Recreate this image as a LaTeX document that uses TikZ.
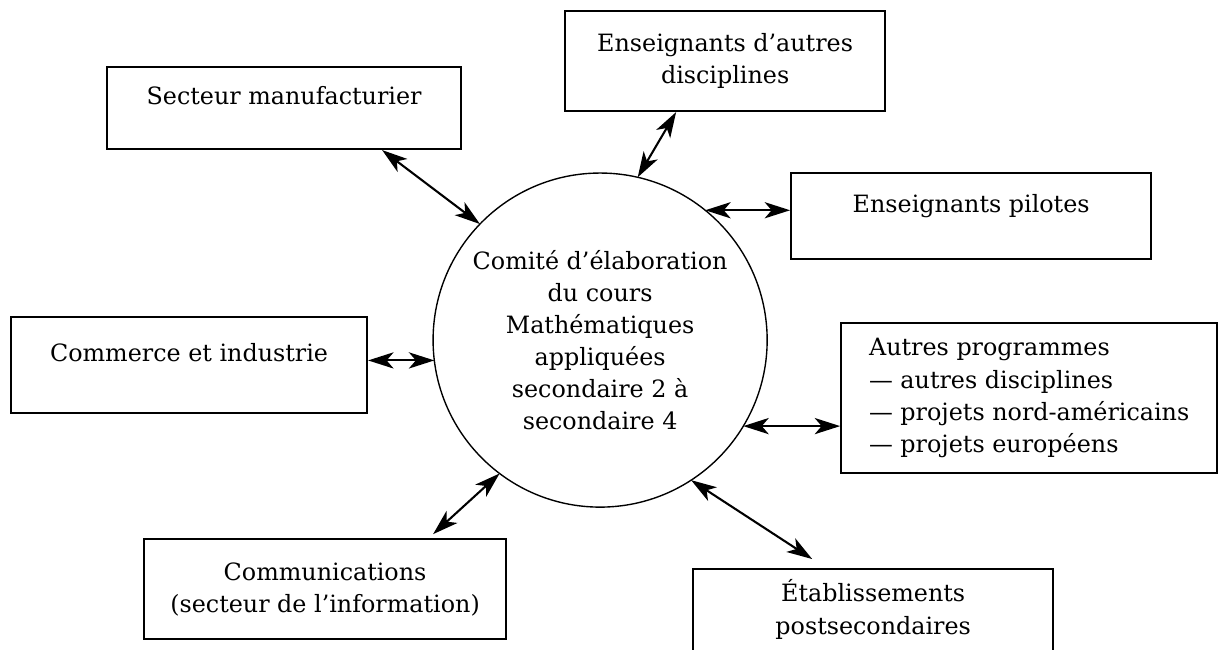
\documentclass[tikz,border=0pt]{standalone}
\usepackage{fontspec}
\setmainfont{DejaVu Serif}
\usepackage{tikz}
\usetikzlibrary{arrows.meta,positioning}

\begin{document}
\begin{tikzpicture}[
  font=\fontsize{10.3}{13.9}\selectfont,
  box/.style={draw, line width=0.9pt, align=center, inner sep=0pt},
  onebox/.style={box, text height=8pt, text depth=11pt},
  comite/.style={draw, circle, line width=0.6pt, minimum size=5.077cm, inner sep=0pt, outer sep=0pt, align=center},
  link/.style={{Stealth[length=11pt,width=7pt,inset=3pt]}-{Stealth[length=11pt,width=7pt,inset=3pt]}, line width=0.9pt}
]
\useasboundingbox (0,0) rectangle (18.51,-9.865);
\node[comite] (c) at (9.12,-5.168) {Comité d’élaboration\\du cours\\Mathématiques\\appliquées\\secondaire 2 à\\secondaire 4};
\node[box, minimum width=4.864cm, minimum height=1.52cm] (autdisc) at (11.02,-0.927) {Enseignants d’autres\\disciplines};
\node[onebox, minimum width=5.381cm, minimum height=1.246cm] (manuf) at (4.317,-1.642) {Secteur manufacturier};
\node[onebox, minimum width=5.472cm, minimum height=1.307cm] (pilotes) at (14.759,-3.283) {Enseignants pilotes};
\node[onebox, minimum width=5.411cm, minimum height=1.459cm] (commerce) at (2.873,-5.548) {Commerce et industrie};
\node[box, align=left, minimum width=5.715cm, minimum height=2.28cm] (progr) at (15.641,-6.05) {Autres programmes\\— autres disciplines\\— projets nord-américains\\— projets européens};
\node[box, minimum width=5.502cm, minimum height=1.52cm] (comm) at (4.94,-8.953) {Communications\\(secteur de l’information)};
\node[box, text depth=11pt, minimum width=5.472cm, minimum height=1.535cm] (etab) at (13.27,-9.416) {Établissements\\postsecondaires};
% liens avec le comite
\draw[link] ([xshift=1.49cm]manuf.south) -- (c.136.4);
\draw[link] ([xshift=-0.745cm]autdisc.south) -- (c.77.6);
\draw[link] (c.51.1) -- (c.51.1 -| pilotes.west);
\draw[link] (c.187.6 -| commerce.east) -- (c.187.6);
\draw[link] (c.-31) -- (c.-31 -| progr.west);
\draw[link] (c.-57) -- ([xshift=-0.927cm, yshift=0.137cm]etab.north);
\draw[link] (c.233.3) -- ([xshift=1.642cm, yshift=0.06cm]comm.north);
\end{tikzpicture}
\end{document}
